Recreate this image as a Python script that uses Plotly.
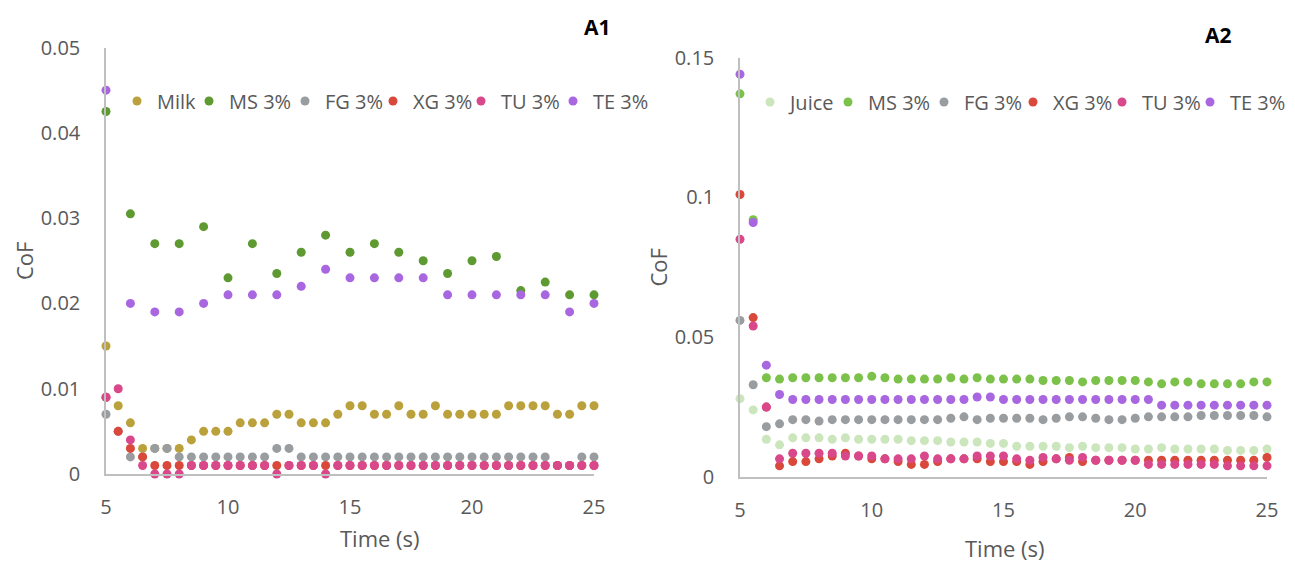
import plotly.graph_objects as go

# ---- Panel A1: milk-based samples -------------------------------------
t_half = [5, 5.5, 6, 6.5, 7, 7.5, 8, 8.5, 9, 9.5, 10, 10.5, 11, 11.5, 12, 12.5,
          13, 13.5, 14, 14.5, 15, 15.5, 16, 16.5, 17, 17.5, 18, 18.5, 19, 19.5,
          20, 20.5, 21, 21.5, 22, 22.5, 23, 23.5, 24, 24.5, 25]
t_whole = [5, 6, 7, 8, 9, 10, 11, 12, 13, 14, 15, 16, 17, 18, 19, 20, 21, 22,
           23, 24, 25]

a1_milk = [0.015, 0.008, 0.006, 0.003, 0.003, 0.003, 0.003, 0.004, 0.005, 0.005,
           0.005, 0.006, 0.006, 0.006, 0.007, 0.007, 0.006, 0.006, 0.006, 0.007,
           0.008, 0.008, 0.007, 0.007, 0.008, 0.007, 0.007, 0.008, 0.007, 0.007,
           0.007, 0.007, 0.007, 0.008, 0.008, 0.008, 0.008, 0.007, 0.007, 0.008,
           0.008]
a1_ms = [0.0425, 0.0305, 0.027, 0.027, 0.029, 0.023, 0.027, 0.0235, 0.026, 0.028,
         0.026, 0.027, 0.026, 0.025, 0.0235, 0.025, 0.0255, 0.0215, 0.0225, 0.021,
         0.021]
a1_fg = [0.007, 0.005, 0.002, 0.002, 0.003, 0.003, 0.002, 0.002, 0.002, 0.002,
         0.002, 0.002, 0.002, 0.002, 0.003, 0.003, 0.002, 0.002, 0.002, 0.002,
         0.002, 0.002, 0.002, 0.002, 0.002, 0.002, 0.002, 0.002, 0.002, 0.002,
         0.002, 0.002, 0.002, 0.002, 0.002, 0.002, 0.002, 0.001, 0.001, 0.002,
         0.002]
a1_xg = [0.009, 0.005, 0.003, 0.002, 0.001, 0.001, 0.001, 0.001, 0.001, 0.001,
         0.001, 0.001, 0.001, 0.001, 0.001, 0.001, 0.001, 0.001, 0.001, 0.001,
         0.001, 0.001, 0.001, 0.001, 0.001, 0.001, 0.001, 0.001, 0.001, 0.001,
         0.001, 0.001, 0.001, 0.001, 0.001, 0.001, 0.001, 0.001, 0.001, 0.001,
         0.001]
a1_tu = [0.009, 0.010, 0.004, 0.001, 0.0, 0.0, 0.0, 0.001, 0.001, 0.001,
         0.001, 0.001, 0.001, 0.001, 0.0, 0.001, 0.001, 0.001, 0.0, 0.001,
         0.001, 0.001, 0.001, 0.001, 0.001, 0.001, 0.001, 0.001, 0.001, 0.001,
         0.001, 0.001, 0.001, 0.001, 0.001, 0.001, 0.001, 0.001, 0.001, 0.001,
         0.001]
a1_te = [0.045, 0.020, 0.019, 0.019, 0.020, 0.021, 0.021, 0.021, 0.022, 0.024,
         0.023, 0.023, 0.023, 0.023, 0.021, 0.021, 0.021, 0.021, 0.021, 0.019,
         0.020]

# ---- Panel A2: juice-based samples ------------------------------------
a2_juice = [0.028, 0.024, 0.0135, 0.0115, 0.014, 0.014, 0.014, 0.0135, 0.014, 0.0135,
            0.0135, 0.0135, 0.0135, 0.013, 0.013, 0.013, 0.0125, 0.0125, 0.0125, 0.012,
            0.012, 0.011, 0.011, 0.011, 0.011, 0.0105, 0.011, 0.0105, 0.0105, 0.0105,
            0.010, 0.010, 0.0105, 0.010, 0.010, 0.010, 0.010, 0.0095, 0.0095, 0.0095,
            0.010]
a2_ms = [0.137, 0.092, 0.0355, 0.035, 0.0355, 0.0355, 0.0355, 0.0355, 0.0355, 0.0355,
         0.036, 0.0355, 0.035, 0.035, 0.035, 0.035, 0.0355, 0.035, 0.0355, 0.035,
         0.035, 0.035, 0.035, 0.0345, 0.0345, 0.0345, 0.034, 0.0345, 0.0345, 0.0345,
         0.0345, 0.034, 0.0333, 0.034, 0.034, 0.0333, 0.0333, 0.0333, 0.0333, 0.034,
         0.034]
a2_fg = [0.056, 0.033, 0.018, 0.019, 0.0205, 0.0205, 0.020, 0.0205, 0.0205, 0.0205,
         0.0205, 0.0205, 0.0205, 0.0205, 0.0205, 0.0205, 0.021, 0.0215, 0.0205, 0.021,
         0.021, 0.021, 0.021, 0.0205, 0.021, 0.0215, 0.0215, 0.021, 0.0205, 0.0205,
         0.021, 0.0215, 0.0215, 0.0215, 0.0215, 0.022, 0.022, 0.022, 0.022, 0.022,
         0.0215]
a2_xg = [0.101, 0.057, 0.025, 0.004, 0.0055, 0.0055, 0.0065, 0.0075, 0.0085, 0.0075,
         0.0065, 0.0065, 0.0055, 0.0045, 0.0045, 0.0055, 0.0065, 0.0065, 0.0065, 0.0055,
         0.0055, 0.0055, 0.0045, 0.0055, 0.0065, 0.007, 0.0055, 0.006, 0.006, 0.006,
         0.006, 0.006, 0.006, 0.006, 0.006, 0.006, 0.006, 0.006, 0.006, 0.006,
         0.007]
a2_tu = [0.085, 0.054, 0.025, 0.0065, 0.0085, 0.0085, 0.0085, 0.0085, 0.0075, 0.0075,
         0.0075, 0.0065, 0.0065, 0.0065, 0.0075, 0.0065, 0.0065, 0.0065, 0.0075, 0.0075,
         0.0075, 0.0065, 0.006, 0.007, 0.0065, 0.006, 0.007, 0.006, 0.006, 0.006,
         0.006, 0.0045, 0.0045, 0.0045, 0.0045, 0.0045, 0.0045, 0.004, 0.004, 0.004,
         0.004]
a2_te = [0.144, 0.091, 0.040, 0.0295, 0.0277, 0.0277, 0.0277, 0.0277, 0.0277, 0.0277,
         0.0277, 0.0277, 0.0277, 0.0277, 0.0277, 0.0277, 0.0277, 0.0277, 0.0286, 0.0286,
         0.0277, 0.0277, 0.0277, 0.0277, 0.0277, 0.0277, 0.0277, 0.0277, 0.0277, 0.0277,
         0.0277, 0.0277, 0.0257, 0.0257, 0.0257, 0.0257, 0.0257, 0.0257, 0.0257, 0.0257,
         0.0257]

FONT = "Open Sans"
TEXT = "#595959"
AXIS = "#BFBFBF"
W, H = 1295, 562

# each series gets its own legend entry box: (panel, x of symbol centre, y)
series = [
    # x, y, name, colour, panel, legend symbol x, legend y
    (t_half, a1_milk, "Milk", "#BBA13B", 1, 137, 101),
    (t_whole, a1_ms, "MS 3%", "#5E9A31", 1, 209, 101),
    (t_half, a1_fg, "FG 3%", "#999DA0", 1, 305, 101),
    (t_half, a1_xg, "XG 3%", "#D9483B", 1, 393, 101),
    (t_half, a1_tu, "TU 3%", "#D9488A", 1, 481, 101),
    (t_whole, a1_te, "TE 3%", "#A866E0", 1, 573, 101),
    (t_half, a2_juice, "Juice", "#CBE6BC", 2, 770, 102),
    (t_half, a2_ms, "MS 3%", "#7CC14A", 2, 848, 102),
    (t_half, a2_fg, "FG 3%", "#999DA0", 2, 944, 102),
    (t_half, a2_xg, "XG 3%", "#D9483B", 2, 1033, 102),
    (t_half, a2_tu, "TU 3%", "#D9488A", 2, 1122, 102),
    (t_half, a2_te, "TE 3%", "#A866E0", 2, 1210, 102),
]

legend_font = dict(family=FONT, size=20, color=TEXT)
fig = go.Figure()
legends = {}
for i, (x, y, name, color, panel, lx, ly) in enumerate(series):
    key = "legend" if i == 0 else f"legend{i + 1}"
    fig.add_trace(go.Scatter(
        x=x, y=y, mode="markers", name=name,
        marker=dict(color=color, size=9, line=dict(width=0)),
        xaxis="x" if panel == 1 else "x2",
        yaxis="y" if panel == 1 else "y2",
        legend=key, cliponaxis=False,
    ))
    legends[key] = dict(x=(lx - 20) / W, y=1 - ly / H, xanchor="left",
                        yanchor="middle", font=legend_font,
                        bgcolor="rgba(0,0,0,0)", borderwidth=0)

tick_font = dict(family=FONT, size=20, color=TEXT)
title_font = dict(family=FONT, size=22, color=TEXT)


def xaxis(domain, anchor):
    return dict(
        domain=domain, anchor=anchor, range=[5, 25], tick0=5, dtick=5,
        showline=True, linecolor=AXIS, linewidth=1.5, showgrid=False,
        zeroline=False, ticks="", tickfont=tick_font, ticklabelstandoff=14,
    )


def yaxis(domain, anchor, top, step):
    return dict(
        domain=domain, anchor=anchor, range=[0, top], tick0=0, dtick=step,
        showline=True, linecolor=AXIS, linewidth=1.5, showgrid=False,
        zeroline=False, ticks="", tickfont=tick_font, ticklabelstandoff=20,
        title=dict(text="CoF", font=title_font, standoff=1),
    )


def label(text, x, y, font, angle=0):
    return dict(text=text, x=x / W, y=1 - y / H, xref="paper", yref="paper",
                xanchor="center", yanchor="middle", textangle=angle,
                showarrow=False, font=font)


panel_font = dict(family=FONT, size=21, color="black")

fig.update_layout(
    width=W, height=H,
    margin=dict(l=0, r=0, t=0, b=0, autoexpand=False),
    paper_bgcolor="white", plot_bgcolor="white",
    font=dict(family=FONT, color=TEXT),
    showlegend=True,
    xaxis=xaxis([106 / W, 594 / W], "y"),
    yaxis=yaxis([1 - 474 / H, 1 - 47.5 / H], "x", 0.05, 0.01),
    xaxis2=xaxis([740 / W, 1267 / W], "y2"),
    yaxis2=yaxis([1 - 477 / H, 1 - 57.5 / H], "x2", 0.15, 0.05),
    annotations=[
        label("Time (s)", 380, 538, title_font),
        label("Time (s)", 1005, 548, title_font),
        label("<b>A1</b>", 597, 27, panel_font),
        label("<b>A2</b>", 1218, 35, panel_font),
    ],
    **legends,
)

fig.write_html("out.html")
